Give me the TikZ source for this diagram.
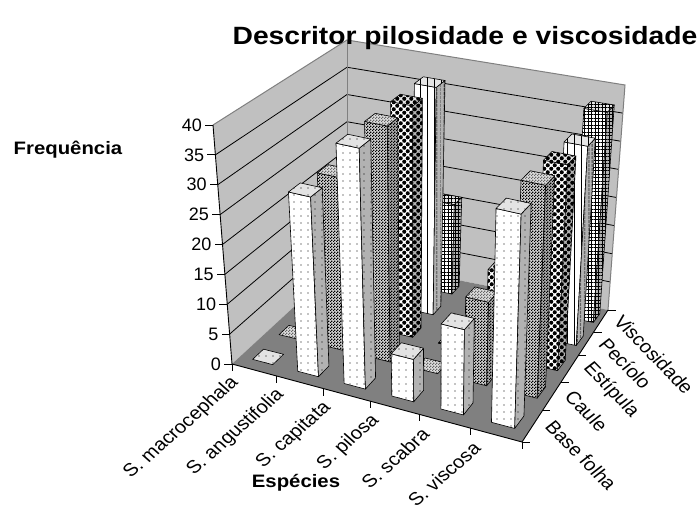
\documentclass[tikz,border=0pt]{standalone}
\usepackage{fontspec}
\setmainfont{Liberation Sans}
\usetikzlibrary{patterns,patterns.meta,calc}
\definecolor{wallc}{HTML}{C0C0C0}
\definecolor{floorc}{HTML}{808080}
\definecolor{edgegray}{HTML}{808080}
\pgfdeclarepatternformonly{finecheck}{\pgfpointorigin}{\pgfqpoint{3pt}{3pt}}{\pgfqpoint{3pt}{3pt}}{%
  \pgfpathrectangle{\pgfpointorigin}{\pgfqpoint{1.5pt}{1.5pt}}%
  \pgfpathrectangle{\pgfqpoint{1.5pt}{1.5pt}}{\pgfqpoint{1.5pt}{1.5pt}}%
  \pgfusepath{fill}}
\pgfdeclarepatternformonly{balls}{\pgfqpoint{-2pt}{-2pt}}{\pgfqpoint{9pt}{9pt}}{\pgfqpoint{7pt}{7pt}}{%
  \pgfpathcircle{\pgfqpoint{1.75pt}{1.75pt}}{2.05pt}%
  \pgfpathcircle{\pgfqpoint{5.25pt}{5.25pt}}{2.05pt}%
  \pgfusepath{fill}}
\makeatletter
\def\bcK{0}
\def\bcparse#1,#2,#3\@nil{\def\bcS{#1}\def\bcD{#2}\def\bcZ{#3}}
\tikzdeclarecoordinatesystem{bar}{%
  \bcparse#1\@nil
  \pgfmathsetmacro\bcuo{(\bcS)/6}%
  \pgfmathsetmacro\bcu{\bcuo/(1.09-0.09*\bcuo)}%
  \pgfmathsetmacro\bcvo{(\bcD)/5}%
  \pgfmathsetmacro\bcv{\bcvo/(0.8+0.2*\bcvo)}%
  \pgfmathsetmacro\bcw{(\bcZ)/40}%
  \pgfmathsetmacro\bcFx{232+290*\bcu+115*\bcv-29*\bcu*\bcv}%
  \pgfmathsetmacro\bcFy{364+78*\bcu-106*\bcv-26*\bcu*\bcv}%
  \pgfmathsetmacro\bcTx{213+317*\bcu+134*\bcv-39*\bcu*\bcv}%
  \pgfmathsetmacro\bcTy{125+70*\bcu-85*\bcv-25*\bcu*\bcv}%
  \pgfmathsetmacro\bcX{\bcFx+\bcw*(\bcTx-\bcFx)+\bcK*\bcu*\bcv}%
  \pgfmathsetmacro\bcY{524-\bcFy-\bcw*(\bcTy-\bcFy)}%
  \pgfpoint{\bcX pt}{\bcY pt}%
}
\makeatother
\tikzset{
  edge/.style={draw=black, line width=0.6pt, line join=round},
  Afront/.style={edge, preaction={fill=white}, pattern={Dots[distance=7pt,radius=0.55pt]}},
  Aside/.style={edge, preaction={fill=gray!60}, pattern={Dots[distance=7pt,radius=0.55pt]}},
  Atop/.style={edge, preaction={fill=gray!22}, pattern={Dots[distance=7pt,radius=0.55pt]}},
  Bfront/.style={edge, preaction={fill=gray!35}, pattern=finecheck},
  Bside/.style={edge, preaction={fill=gray!65}, pattern=finecheck},
  Btop/.style={edge, preaction={fill=gray!25}, pattern=finecheck, pattern color=gray!80!black},
  Cfront/.style={edge, preaction={fill=white}, pattern=balls},
  Cside/.style={edge, preaction={fill=gray!60}, pattern=balls},
  Ctop/.style={edge, preaction={fill=gray!20}, pattern=balls},
  Dfront/.style={edge, preaction={fill=white}, pattern={Lines[angle=90,distance=7pt,line width=0.8pt]}},
  Dside/.style={edge, preaction={fill=gray!60}, pattern={Lines[angle=90,distance=4pt,line width=0.8pt]}},
  Dtop/.style={edge, preaction={fill=gray!20}, pattern={Lines[angle=90,distance=7pt,line width=0.8pt]}},
  Efront/.style={edge, preaction={fill=white}, pattern={Hatch[distance=3.5pt,line width=0.5pt]}},
  Eside/.style={edge, preaction={fill=gray!60}, pattern={Hatch[distance=3.5pt,line width=0.5pt]}},
  Etop/.style={edge, preaction={fill=gray!20}, pattern={Hatch[distance=3.5pt,line width=0.5pt]}},
  gridln/.style={draw=black, line width=0.8pt},
  walledge/.style={draw=edgegray, line width=1pt},
  axisln/.style={draw=black, line width=0.9pt},
  ticklbl/.style={font=\fontsize{18}{20}\selectfont, inner sep=0pt},
  serlbl/.style={font=\fontsize{18}{20}\selectfont, inner sep=0pt},
  boldlbl/.style={font=\bfseries\fontsize{18}{20}\selectfont, inner sep=0pt}
}
\newcommand\colbar[4]{%
  \def\bcK{10}%
  \pgfmathsetmacro\cbsa{#1+0.275}%
  \pgfmathsetmacro\cbsb{#1+0.725}%
  \pgfmathsetmacro\cbda{#2+0.3}%
  \pgfmathsetmacro\cbdb{#2+0.7}%
  \ifdim #3pt>0pt
    \path[#4front] (bar cs:\cbsa,\cbda,0) -- (bar cs:\cbsb,\cbda,0) -- (bar cs:\cbsb,\cbda,#3) -- (bar cs:\cbsa,\cbda,#3) -- cycle;
    \path[#4side] (bar cs:\cbsb,\cbda,0) -- (bar cs:\cbsb,\cbdb,0) -- (bar cs:\cbsb,\cbdb,#3) -- (bar cs:\cbsb,\cbda,#3) -- cycle;
  \fi
  \path[#4top] (bar cs:\cbsa,\cbda,#3) -- (bar cs:\cbsb,\cbda,#3) -- (bar cs:\cbsb,\cbdb,#3) -- (bar cs:\cbsa,\cbdb,#3) -- cycle;
  \def\bcK{0}%
}
\begin{document}
\begin{tikzpicture}[x=1pt,y=1pt]
\useasboundingbox (0,0) rectangle (700,524);
\fill[white] (0,0) rectangle (700,524);
% walls
\fill[wallc] (bar cs:0,0,0) -- (bar cs:0,5,0) -- (bar cs:0,5,40) -- (bar cs:0,0,40) -- cycle;
\fill[wallc] (bar cs:0,5,0) -- (bar cs:6,5,0) -- (bar cs:6,5,40) -- (bar cs:0,5,40) -- cycle;
\foreach \zz in {5,10,...,35}
  \draw[gridln] (bar cs:0,0,\zz) -- (bar cs:0,5,\zz) -- (bar cs:6,5,\zz);
\draw[walledge] (bar cs:0,0,40) -- (bar cs:0,5,40) -- (bar cs:6,5,40) -- (bar cs:6,5,0);
\draw[walledge] (bar cs:0,5,40) -- (bar cs:0,5,0);
% floor
\fill[floorc] (bar cs:0,0,0) -- (bar cs:6,0,0) -- (bar cs:6,5,0) -- (bar cs:0,5,0) -- cycle;
% axes
\draw[axisln] (bar cs:0,0,40) -- (bar cs:0,0,0) -- (bar cs:6,0,0) -- (bar cs:6,5,0);
\foreach \zz in {0,5,...,40}{
  \draw[axisln] (bar cs:0,0,\zz) -- ++(-8,0);
  \node[ticklbl, anchor=east] (yl\zz) at ($(bar cs:0,0,\zz)+(-11,0)$) {\zz};
}
\foreach \ss in {0,...,6}
  \draw[axisln] (bar cs:\ss,0,0) -- ++(0,-7);
\foreach \dd in {0,...,5}
  \draw[axisln] (bar cs:6,\dd,0) -- ++(8,0);
% bars, back to front
\colbar{2}{4}{16}{E}
\colbar{5}{4}{37}{E}
\colbar{2}{3}{40}{D}
\colbar{5}{3}{34.5}{D}
\colbar{2}{2}{40}{C}
\colbar{3}{2}{0}{C}
\colbar{4}{2}{14.5}{C}
\colbar{5}{2}{35}{C}
\colbar{0}{1}{0}{B}
\colbar{1}{1}{29.5}{B}
\colbar{2}{1}{40}{B}
\colbar{3}{1}{0}{B}
\colbar{4}{1}{14}{B}
\colbar{5}{1}{35.5}{B}
\colbar{0}{0}{0}{A}
\colbar{1}{0}{30}{A}
\colbar{2}{0}{40}{A}
\colbar{3}{0}{7}{A}
\colbar{4}{0}{14}{A}
\colbar{5}{0}{35}{A}
% species labels
\foreach \ss/\tt in {0/S. macrocephala,1/S. angustifolia,2/S. capitata,3/S. pilosa,4/S. scabra,5/S. viscosa}
  \node[ticklbl, anchor=east, xscale=1.13, rotate=45] (sp\ss) at ($(bar cs:\ss+0.5,0,0)+(-19,-10)$) {\tt};
% series labels
\foreach \dd/\tt in {0/Base folha,1/Caule,2/Estípula,3/Pecíolo,4/Viscosidade}
  \node[serlbl, anchor=west, xscale=1.13, rotate=-49] (se\dd) at ($(bar cs:6,\dd+0.5,0)+(17,3)$) {\tt};
% titles
\node[font=\bfseries\fontsize{25}{28}\selectfont, inner sep=0pt, xscale=1.13] (title) at (465,486) {Descritor pilosidade e viscosidade};
\node[boldlbl, xscale=1.13] (ylab) at (68,374) {Frequência};
\node[boldlbl, xscale=1.13] (xlab) at (296,41) {Espécies};
\end{tikzpicture}
\end{document}
